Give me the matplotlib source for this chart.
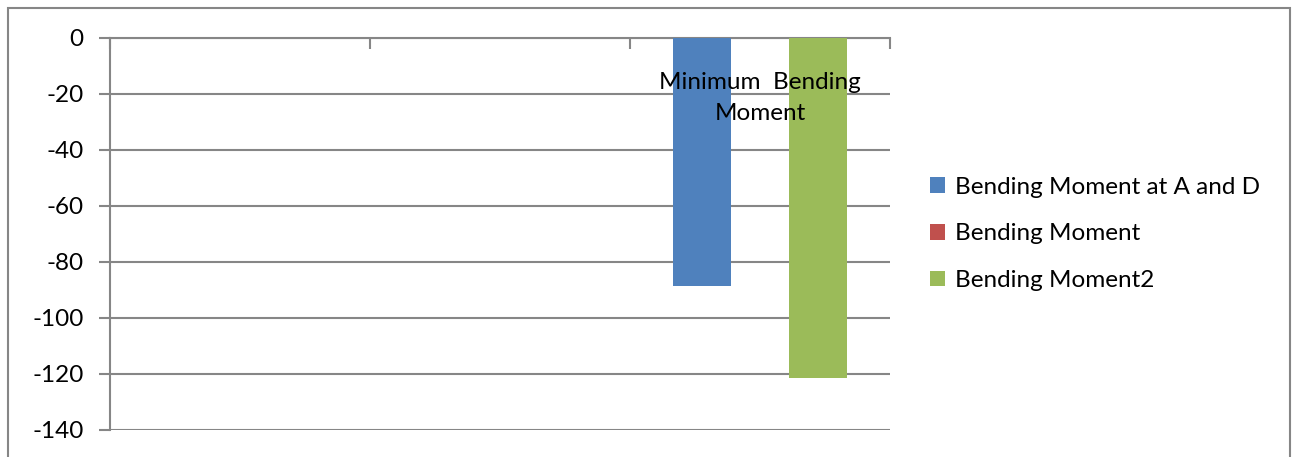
import numpy as np
import matplotlib
matplotlib.use("Agg")
import matplotlib.pyplot as plt
from matplotlib.patches import Rectangle

plt.rcParams['font.family'] = ['Lato', 'DejaVu Sans']

# data
categories = ['', '', 'Minimum  Bending\nMoment']
series_names = ['Bending Moment at A and D', 'Bending Moment', 'Bending Moment2']
bm_a_d = [0, 0, -88.6]
bm = [0, 0, 0]
bm2 = [0, 0, -121.5]
colors = ['#4f81bd', '#c0504d', '#9bbb59']
yticks = [0, -20, -40, -60, -80, -100, -120, -140]

fs = 17.5

fig = plt.figure(figsize=(12.97, 4.57), dpi=100)
ax = fig.add_axes([110 / 1297, 1 - 430 / 457, 780 / 1297, 392 / 457])

# outer chart frame
fig.patches.append(Rectangle((8 / 1297, -0.05), 1282 / 1297, 1 - 8 / 457 + 0.05,
                             transform=fig.transFigure, fill=False,
                             edgecolor='#868686', lw=1.5))

x = np.arange(len(categories))
w = 0.223
for i, (vals, name) in enumerate(zip([bm_a_d, bm, bm2], series_names)):
    ax.bar(x + (i - 1) * w, vals, width=w, color=colors[i], label=name, zorder=3)

ax.set_xlim(-0.5, 2.5)
ax.set_ylim(-140, 0)
ax.set_yticks(yticks)
ax.set_yticklabels([str(t) for t in yticks], fontsize=fs)
ax.yaxis.grid(True, color='#868686', lw=1.5, zorder=0)
ax.tick_params(axis='y', length=8, width=1.5, color='#868686', pad=11)

# category boundaries as ticks on the zero line (top)
ax.xaxis.set_ticks_position('top')
ax.set_xticks(np.arange(-0.5, len(categories), 1))
ax.set_xticklabels([])
ax.tick_params(axis='x', direction='in', length=8, width=1.5, color='#868686')
for i, c in enumerate(categories):
    ax.annotate(c, (i, 0), xytext=(0, -34), textcoords='offset pixels',
                ha='center', va='top', fontsize=fs, linespacing=1.6, zorder=4)

for s in ['right', 'bottom']:
    ax.spines[s].set_visible(False)
for s in ['left', 'top']:
    ax.spines[s].set_color('#868686')
    ax.spines[s].set_linewidth(1.5)

ax.legend(loc='center left', bbox_to_anchor=(1.036, 0.5), frameon=False,
          fontsize=fs, handlelength=0.6, handleheight=0.6, handletextpad=0.4,
          labelspacing=1.06, borderpad=0)

fig.savefig('out.png', dpi=100)
